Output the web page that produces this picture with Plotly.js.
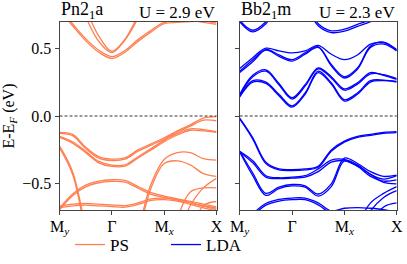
<!DOCTYPE html>
<html>
<head>
<meta charset="utf-8">
<script src="https://cdn.plot.ly/plotly-3.0.1.min.js"></script>
<style>html,body{margin:0;padding:0;background:#fff;}#plot{width:407px;height:264px;}</style>
</head>
<body>
<div id="plot"></div>
<script>
// k-path sample points (My -> Gamma -> Mx -> X)
const K = [0, 0.25, 0.5, 0.75, 1, 1.25, 1.5, 1.75, 2, 2.25, 2.5, 2.75, 3];
const kTickVals = [0, 1, 2, 3];
const kTickText = ['M<sub><i>y</i></sub>', 'Γ', 'M<sub><i>x</i></sub>', 'X'];
const eTickVals = [-0.5, 0, 0.5];
const eTickText = ['−0.5', '0.0', '0.5'];

// ---- Pn2_1a (PS), U = 2.9 eV ----
const ps_c1a = [0.78, 0.665, 0.555, 0.47, 0.425, 0.47, 0.55, 0.62, 0.68, 0.69, 0.695, 0.70, 0.685];
const ps_c1b = [0.80, 0.68, 0.57, 0.485, 0.438, 0.483, 0.563, 0.632, 0.69, 0.70, 0.705, 0.71, 0.695];
const ps_c2a = [1.2, 0.95, 0.73, 0.55, 0.468, 0.56, 0.72, 0.9, 1.05, 1.1, 1.1, 1.1, 1.1];
const ps_c2b = [1.25, 1.0, 0.79, 0.59, 0.478, 0.565, 0.74, 0.92, 1.07, 1.15, 1.15, 1.15, 1.15];
const ps_c3  = [1.1, 1.1, 1.1, 1.1, 1.1, 1.0, 0.9, 0.8, 0.74, 0.715, 0.705, 0.69, 0.675];
const ps_vA1 = [-0.12, -0.135, -0.23, -0.30, -0.318, -0.308, -0.25, -0.205, -0.16, -0.11, -0.065, -0.015, -0.005];
const ps_vA2 = [-0.128, -0.145, -0.24, -0.31, -0.328, -0.318, -0.26, -0.215, -0.17, -0.12, -0.075, -0.03, -0.035];
const ps_vB1 = [-0.15, -0.19, -0.26, -0.335, -0.362, -0.36, -0.30, -0.24, -0.18, -0.13, -0.095, -0.10, -0.115];
const ps_vB2 = [-0.158, -0.2, -0.27, -0.345, -0.372, -0.37, -0.31, -0.25, -0.19, -0.14, -0.105, -0.11, -0.12];
const ps_vS1 = [-1.2, -1.2, -1.2, -1.2, -1.1, -1.0, -0.82, -0.5, -0.32, -0.27, -0.27, -0.315, -0.325];
const ps_vS2 = [-1.2, -1.2, -1.2, -1.2, -1.1, -1.0, -0.85, -0.53, -0.35, -0.33, -0.36, -0.425, -0.445];
const ps_vR1 = [-1.2, -1.2, -1.2, -1.2, -1.2, -1.2, -1.2, -1.2, -1.2, -0.9, -0.66, -0.53, -0.46];
const ps_vR2 = [-1.2, -1.2, -1.2, -1.2, -1.2, -1.2, -1.2, -1.2, -1.0, -0.75, -0.56, -0.53, -0.53];
const ps_vR3 = [-1.2, -1.2, -1.2, -1.2, -1.2, -1.2, -1.2, -1.2, -1.2, -1.1, -0.85, -0.66, -0.63];
const ps_vH1 = [-0.68, -0.575, -0.51, -0.48, -0.47, -0.475, -0.52, -0.565, -0.59, -0.61, -0.63, -0.65, -0.67];
const ps_vH2 = [-0.692, -0.587, -0.522, -0.492, -0.482, -0.487, -0.532, -0.577, -0.60, -0.62, -0.64, -0.66, -0.68];
const ps_vF1 = [-0.665, -0.65, -0.645, -0.65, -0.655, -0.66, -0.64, -0.61, -0.605, -0.615, -0.64, -0.665, -0.69];
const ps_vF2 = [-0.677, -0.662, -0.657, -0.662, -0.667, -0.672, -0.652, -0.622, -0.617, -0.627, -0.652, -0.677, -0.70];
const ps_vT1 = [-0.22, -0.41, -0.82, -1.2, -1.2, -1.2, -1.2, -1.2, -1.2, -1.2, -1.2, -1.2, -1.2];
const ps_vT2 = [-0.235, -0.43, -0.85, -1.2, -1.2, -1.2, -1.2, -1.2, -1.2, -1.2, -1.2, -1.2, -1.2];

// ---- Bb2_1m (LDA), U = 2.3 eV ----
const lda_t1 = [0.695, 0.62, 0.68, 0.82, 0.95, 1.0, 1.0, 1.0, 1.0, 1.0, 1.0, 1.0, 1.0];
const lda_t2 = [0.705, 0.632, 0.695, 0.84, 0.97, 1.0, 1.0, 1.0, 1.0, 1.0, 1.0, 1.0, 1.0];
const lda_t3 = [1.0, 1.0, 1.0, 1.0, 0.95, 0.82, 0.665, 0.615, 0.625, 0.66, 0.695, 0.74, 0.8];
const lda_t4 = [1.0, 1.0, 1.0, 1.0, 0.97, 0.84, 0.68, 0.628, 0.64, 0.675, 0.71, 0.76, 0.82];
const lda_u1 = [0.35, 0.43, 0.50, 0.48, 0.465, 0.48, 0.52, 0.455, 0.415, 0.45, 0.53, 0.54, 0.49];
const lda_u2 = [0.33, 0.415, 0.49, 0.45, 0.415, 0.465, 0.51, 0.38, 0.29, 0.355, 0.515, 0.545, 0.485];
const lda_u3 = [0.32, 0.40, 0.485, 0.44, 0.405, 0.455, 0.505, 0.37, 0.28, 0.345, 0.505, 0.53, 0.48];
const lda_w1 = [0.16, 0.30, 0.34, 0.24, 0.135, 0.23, 0.355, 0.29, 0.2, 0.245, 0.32, 0.30, 0.27];
const lda_w2 = [0.152, 0.29, 0.33, 0.23, 0.125, 0.22, 0.348, 0.28, 0.19, 0.235, 0.31, 0.305, 0.275];
const lda_w3 = [0.145, 0.26, 0.25, 0.16, 0.075, 0.17, 0.33, 0.245, 0.12, 0.17, 0.26, 0.265, 0.255];
const lda_w4 = [0.14, 0.25, 0.24, 0.15, 0.065, 0.16, 0.32, 0.235, 0.11, 0.16, 0.25, 0.26, 0.25];
const lda_v1 = [-0.015, -0.16, -0.34, -0.39, -0.395, -0.39, -0.37, -0.25, -0.185, -0.15, -0.135, -0.12, -0.115];
const lda_v2 = [-0.022, -0.17, -0.35, -0.397, -0.402, -0.397, -0.378, -0.26, -0.192, -0.157, -0.142, -0.127, -0.122];
const lda_v3 = [-0.26, -0.33, -0.44, -0.455, -0.45, -0.44, -0.39, -0.325, -0.32, -0.36, -0.43, -0.465, -0.44];
const lda_v4 = [-0.265, -0.345, -0.45, -0.462, -0.458, -0.45, -0.41, -0.34, -0.33, -0.37, -0.445, -0.48, -0.47];
const lda_h1 = [-0.26, -0.42, -0.57, -0.525, -0.505, -0.515, -0.575, -0.5, -0.31, -0.35, -0.41, -0.445, -0.435];
const lda_h2 = [-0.265, -0.44, -0.585, -0.535, -0.515, -0.525, -0.59, -0.52, -0.33, -0.37, -0.43, -0.49, -0.5];
const lda_b1 = [-0.8, -0.72, -0.645, -0.615, -0.605, -0.605, -0.64, -0.7, -0.68, -0.675, -0.68, -0.69, -0.71];
const lda_b2 = [-0.82, -0.735, -0.657, -0.627, -0.617, -0.617, -0.655, -0.72, -0.75, -0.75, -0.75, -0.75, -0.75];
const lda_r1 = [-1.0, -1.0, -1.0, -1.0, -1.0, -1.0, -1.0, -1.0, -1.0, -0.8, -0.64, -0.57, -0.52];
const lda_r2 = [-1.0, -1.0, -1.0, -1.0, -1.0, -1.0, -1.0, -1.0, -1.0, -0.88, -0.7, -0.6, -0.55];
const lda_r3 = [-1.0, -1.0, -1.0, -1.0, -1.0, -1.0, -1.0, -1.0, -1.0, -1.0, -0.8, -0.67, -0.64];

const psBands = [ps_c1a, ps_c1b, ps_c2a, ps_c2b, ps_c3, ps_vA1, ps_vA2, ps_vB1, ps_vB2,
  ps_vS1, ps_vS2, ps_vR1, ps_vR2, ps_vR3, ps_vH1, ps_vH2, ps_vF1, ps_vF2, ps_vT1, ps_vT2];
const ldaBands = [lda_t1, lda_t2, lda_t3, lda_t4, lda_u1, lda_u2, lda_u3, lda_w1, lda_w2,
  lda_w3, lda_w4, lda_v1, lda_v2, lda_v3, lda_v4, lda_h1, lda_h2, lda_b1, lda_b2, lda_r1, lda_r2, lda_r3];

const PS_COLOR = '#ff7f50';
const LDA_COLOR = '#0000ff';
const traces = [];
function addBands(bands, color, name, xa, ya) {
  bands.forEach((b, i) => {
    traces.push({
      type: 'scatter', mode: 'lines', x: K, y: b, xaxis: xa, yaxis: ya,
      line: {color: color, width: 1.3, shape: 'spline', smoothing: 1},
      name: name, legendgroup: name, showlegend: i === 0, hoverinfo: 'skip'
    });
  });
}
addBands(psBands, PS_COLOR, 'PS', 'x', 'y');
addBands(ldaBands, LDA_COLOR, 'LDA', 'x2', 'y2');

const W = 407, H = 264;
const yDom = [1 - 210.3 / H, 1 - 21.7 / H];
const axCommon = {
  showline: true, mirror: true, linecolor: '#444', linewidth: 1,
  ticks: 'outside', ticklen: 4, tickwidth: 1, tickcolor: '#444',
  showgrid: false, zeroline: false, fixedrange: true
};
const FONT = 'Liberation Serif, DejaVu Serif, serif';
const layout = {
  width: W, height: H, margin: {l: 0, r: 0, t: 0, b: 0},
  paper_bgcolor: 'white', plot_bgcolor: 'white',
  font: {family: FONT, size: 15, color: 'black'},
  showlegend: true,
  legend: {orientation: 'h', x: 0.172, xanchor: 'left', y: 0.072, yanchor: 'middle',
    font: {size: 17, family: FONT}, entrywidth: 51, entrywidthmode: 'pixels',
    bgcolor: 'rgba(0,0,0,0)', borderwidth: 0, tracegroupgap: 0},
  xaxis: Object.assign({}, axCommon, {domain: [59.5 / W, 216.5 / W], range: [0, 3], anchor: 'y',
    tickvals: kTickVals, ticktext: kTickText, tickfont: {size: 16, family: FONT}, ticklabelstandoff: -3}),
  yaxis: Object.assign({}, axCommon, {domain: yDom, range: [-0.695, 0.695], anchor: 'x',
    tickvals: eTickVals, ticktext: eTickText, tickfont: {size: 16, family: FONT},
    title: {text: 'E-E<sub><i>F</i></sub> (eV)', font: {size: 16, family: FONT}, standoff: 4}}),
  xaxis2: Object.assign({}, axCommon, {domain: [239.7 / W, 396.7 / W], range: [0, 3], anchor: 'y2',
    tickvals: kTickVals, ticktext: kTickText, tickfont: {size: 16, family: FONT}, ticklabelstandoff: -3}),
  yaxis2: Object.assign({}, axCommon, {domain: yDom, range: [-0.695, 0.695], anchor: 'x2',
    tickvals: eTickVals, showticklabels: false}),
  shapes: [
    {type: 'line', xref: 'x domain', yref: 'y', x0: 0, x1: 1, y0: 0, y1: 0, layer: 'above',
      line: {color: 'black', width: 0.8, dash: '3px,2px'}},
    {type: 'line', xref: 'x2 domain', yref: 'y2', x0: 0, x1: 1, y0: 0, y1: 0, layer: 'above',
      line: {color: 'black', width: 0.8, dash: '3px,2px'}}
  ],
  annotations: [
    {text: 'Pn2<sub>1</sub>a', xref: 'paper', yref: 'paper', x: 59.5 / W, y: yDom[1], xanchor: 'left', yanchor: 'bottom', showarrow: false, font: {size: 18, family: FONT}, xshift: -1, yshift: -2},
    {text: 'U = 2.9 eV', xref: 'paper', yref: 'paper', x: 216.5 / W, y: yDom[1], xanchor: 'right', yanchor: 'bottom', showarrow: false, font: {size: 17, family: FONT}, yshift: -2},
    {text: 'Bb2<sub>1</sub>m', xref: 'paper', yref: 'paper', x: 239.7 / W, y: yDom[1], xanchor: 'left', yanchor: 'bottom', showarrow: false, font: {size: 18, family: FONT}, xshift: -1, yshift: -2},
    {text: 'U = 2.3 eV', xref: 'paper', yref: 'paper', x: 396.7 / W, y: yDom[1], xanchor: 'right', yanchor: 'bottom', showarrow: false, font: {size: 17, family: FONT}, yshift: -2}
  ]
};
Plotly.newPlot('plot', traces, layout, {staticPlot: true, displayModeBar: false});
</script>
</body>
</html>
